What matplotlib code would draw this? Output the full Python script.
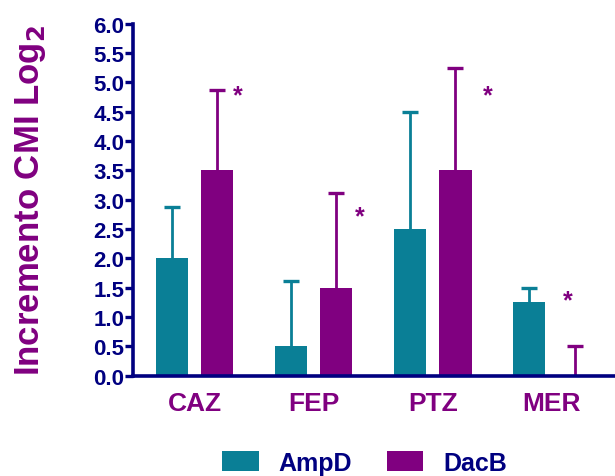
import numpy as np
import matplotlib
matplotlib.use("Agg")
from matplotlib import pyplot as plt

plt.rcParams['font.family'] = ['Liberation Sans', 'DejaVu Sans']
plt.rcParams['font.weight'] = 'bold'

navy = '#000080'
teal = '#0A7F96'
purple = '#800080'

drugs = ['CAZ', 'FEP', 'PTZ', 'MER']
ampd = [2.0, 0.5, 2.5, 1.25]
ampd_err = [0.87, 1.12, 2.0, 0.25]
dacb = [3.5, 1.5, 3.5, 0.0]
dacb_err = [1.37, 1.62, 1.75, 0.5]
# asterisks: x offset from group centre and height
star_dx = [0.36, 0.39, 0.46, 0.13]
star_y = [4.78, 2.72, 4.78, 1.28]

x = np.arange(len(drugs))
w = 0.27

fig = plt.figure(figsize=(6.15, 4.77), dpi=100)
ax = fig.add_axes([0.216, 0.21, 0.784, 0.738])

ax.bar(x - 0.19, ampd, w, color=teal, label='AmpD')
ax.bar(x + 0.19, dacb, w, color=purple, label='DacB')

# upper error bars only (hide the lower caps)
for xs, vals, errs, col in [(x - 0.19, ampd, ampd_err, teal),
                            (x + 0.19, dacb, dacb_err, purple)]:
    _, caps, _ = ax.errorbar(xs, vals, yerr=[np.zeros(4), errs], fmt='none',
                             ecolor=col, elinewidth=2, capsize=6, capthick=2.4)
    caps[0].set_visible(False)

for i in range(len(drugs)):
    ax.text(x[i] + star_dx[i], star_y[i], '*', color=purple, fontsize=18,
            fontweight='bold', ha='center', va='center')

ax.set_xlim(-0.52, 3.53)
ax.set_ylim(0, 6)
ax.set_yticks(np.arange(0, 6.01, 0.5))
ax.set_yticklabels(['%.1f' % v for v in np.arange(0, 6.01, 0.5)])
ax.set_xticks(x)
ax.set_xticklabels(drugs)

for s in ['top', 'right']:
    ax.spines[s].set_visible(False)
for s in ['left', 'bottom']:
    ax.spines[s].set_color(navy)
    ax.spines[s].set_linewidth(2.6)

ax.tick_params(axis='y', direction='out', length=6, width=2.4, color=navy,
               labelcolor=navy, labelsize=16, pad=0)
ax.tick_params(axis='x', length=0, labelcolor=purple, labelsize=19, pad=11)

ax.set_ylabel('Incremento CMI Log$_\\mathsf{2}$', color=purple, fontsize=25,
              fontweight='bold', labelpad=33)

fig.legend(loc='center', bbox_to_anchor=(0.593, 0.028), ncol=2, frameon=False,
           fontsize=18, labelcolor=navy, handlelength=1.45, handleheight=0.9,
           handletextpad=0.8, columnspacing=1.4)

fig.savefig('out.png', dpi=100)
